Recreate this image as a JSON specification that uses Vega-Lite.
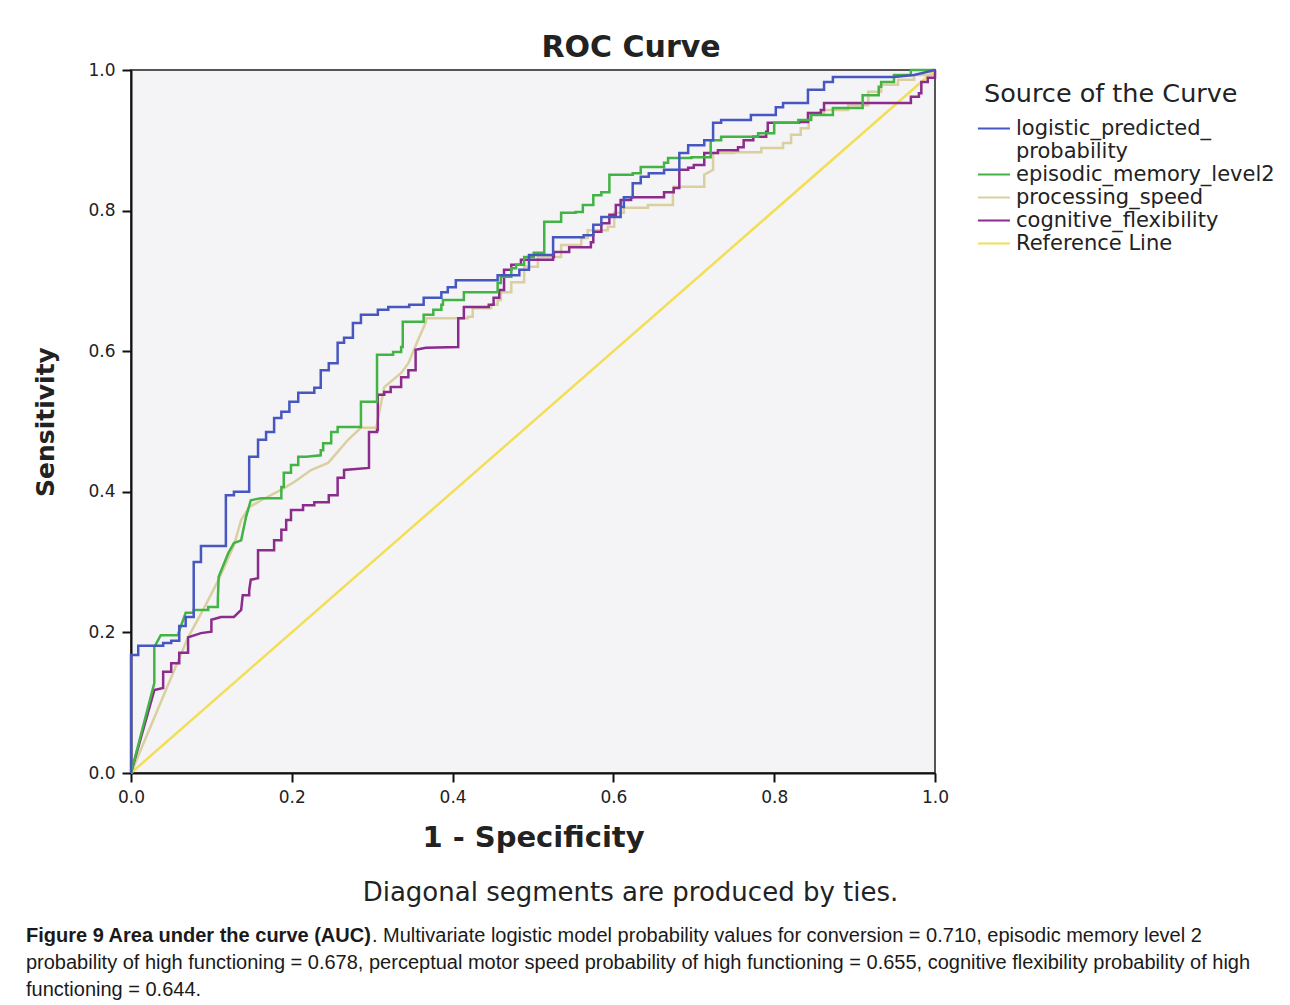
{
  "$schema": "https://vega.github.io/schema/vega-lite/v6.json",
  "background": "white",
  "padding": {"left": 25, "top": 32, "right": 5, "bottom": 5},
  "datasets": {
    "logistic": [
      {"x":0,"y":0},{"x":0,"y":0.168},{"x":0.009,"y":0.168},{"x":0.009,"y":0.181},{"x":0.040,"y":0.181},{"x":0.040,"y":0.185},{"x":0.050,"y":0.185},{"x":0.050,"y":0.188},{"x":0.060,"y":0.188},{"x":0.060,"y":0.209},{"x":0.068,"y":0.209},{"x":0.068,"y":0.222},{"x":0.078,"y":0.222},{"x":0.078,"y":0.300},{"x":0.087,"y":0.300},{"x":0.087,"y":0.323},{"x":0.118,"y":0.323},{"x":0.118,"y":0.395},{"x":0.128,"y":0.395},{"x":0.128,"y":0.400},{"x":0.147,"y":0.400},{"x":0.147,"y":0.450},{"x":0.158,"y":0.450},{"x":0.158,"y":0.474},{"x":0.168,"y":0.474},{"x":0.168,"y":0.485},{"x":0.178,"y":0.485},{"x":0.178,"y":0.505},{"x":0.187,"y":0.505},{"x":0.187,"y":0.514},{"x":0.197,"y":0.514},{"x":0.197,"y":0.528},{"x":0.208,"y":0.528},{"x":0.208,"y":0.541},{"x":0.228,"y":0.541},{"x":0.228,"y":0.548},{"x":0.236,"y":0.548},{"x":0.236,"y":0.573},{"x":0.246,"y":0.573},{"x":0.246,"y":0.583},{"x":0.257,"y":0.583},{"x":0.257,"y":0.612},{"x":0.265,"y":0.612},{"x":0.265,"y":0.619},{"x":0.276,"y":0.619},{"x":0.276,"y":0.640},{"x":0.286,"y":0.640},{"x":0.286,"y":0.652},{"x":0.307,"y":0.652},{"x":0.307,"y":0.659},{"x":0.320,"y":0.659},{"x":0.320,"y":0.663},{"x":0.346,"y":0.663},{"x":0.346,"y":0.666},{"x":0.364,"y":0.666},{"x":0.364,"y":0.676},{"x":0.386,"y":0.676},{"x":0.386,"y":0.684},{"x":0.394,"y":0.684},{"x":0.394,"y":0.691},{"x":0.404,"y":0.691},{"x":0.404,"y":0.701},{"x":0.456,"y":0.701},{"x":0.456,"y":0.708},{"x":0.483,"y":0.708},{"x":0.483,"y":0.716},{"x":0.495,"y":0.716},{"x":0.495,"y":0.737},{"x":0.525,"y":0.737},{"x":0.525,"y":0.762},{"x":0.563,"y":0.762},{"x":0.563,"y":0.765},{"x":0.575,"y":0.765},{"x":0.575,"y":0.780},{"x":0.585,"y":0.780},{"x":0.585,"y":0.791},{"x":0.609,"y":0.791},{"x":0.609,"y":0.805},{"x":0.613,"y":0.805},{"x":0.613,"y":0.819},{"x":0.624,"y":0.819},{"x":0.624,"y":0.839},{"x":0.634,"y":0.839},{"x":0.634,"y":0.848},{"x":0.644,"y":0.848},{"x":0.644,"y":0.853},{"x":0.663,"y":0.853},{"x":0.663,"y":0.858},{"x":0.682,"y":0.858},{"x":0.682,"y":0.882},{"x":0.693,"y":0.882},{"x":0.693,"y":0.893},{"x":0.713,"y":0.893},{"x":0.713,"y":0.900},{"x":0.724,"y":0.900},{"x":0.724,"y":0.925},{"x":0.734,"y":0.925},{"x":0.734,"y":0.929},{"x":0.771,"y":0.929},{"x":0.771,"y":0.936},{"x":0.802,"y":0.936},{"x":0.802,"y":0.947},{"x":0.811,"y":0.947},{"x":0.811,"y":0.953},{"x":0.842,"y":0.953},{"x":0.842,"y":0.972},{"x":0.862,"y":0.972},{"x":0.862,"y":0.983},{"x":0.873,"y":0.983},{"x":0.873,"y":0.990},{"x":0.949,"y":0.990},{"x":0.974,"y":0.993},{"x":1,"y":1}
    ],
    "episodic": [
      {"x":0,"y":0},{"x":0.029,"y":0.128},{"x":0.029,"y":0.179},{"x":0.037,"y":0.196},{"x":0.059,"y":0.196},{"x":0.059,"y":0.199},{"x":0.068,"y":0.228},{"x":0.078,"y":0.228},{"x":0.078,"y":0.232},{"x":0.096,"y":0.232},{"x":0.096,"y":0.236},{"x":0.108,"y":0.236},{"x":0.108,"y":0.246},{"x":0.109,"y":0.279},{"x":0.121,"y":0.313},{"x":0.128,"y":0.327},{"x":0.137,"y":0.331},{"x":0.143,"y":0.364},{"x":0.149,"y":0.388},{"x":0.162,"y":0.391},{"x":0.187,"y":0.391},{"x":0.187,"y":0.407},{"x":0.190,"y":0.407},{"x":0.190,"y":0.427},{"x":0.199,"y":0.427},{"x":0.199,"y":0.438},{"x":0.208,"y":0.438},{"x":0.208,"y":0.450},{"x":0.218,"y":0.450},{"x":0.236,"y":0.452},{"x":0.236,"y":0.459},{"x":0.239,"y":0.459},{"x":0.239,"y":0.469},{"x":0.249,"y":0.469},{"x":0.249,"y":0.485},{"x":0.257,"y":0.485},{"x":0.257,"y":0.492},{"x":0.286,"y":0.492},{"x":0.286,"y":0.528},{"x":0.306,"y":0.528},{"x":0.306,"y":0.595},{"x":0.326,"y":0.595},{"x":0.326,"y":0.599},{"x":0.336,"y":0.599},{"x":0.336,"y":0.606},{"x":0.338,"y":0.606},{"x":0.338,"y":0.642},{"x":0.364,"y":0.642},{"x":0.364,"y":0.652},{"x":0.376,"y":0.652},{"x":0.376,"y":0.659},{"x":0.386,"y":0.659},{"x":0.386,"y":0.666},{"x":0.388,"y":0.666},{"x":0.388,"y":0.673},{"x":0.414,"y":0.673},{"x":0.414,"y":0.684},{"x":0.456,"y":0.684},{"x":0.456,"y":0.697},{"x":0.460,"y":0.697},{"x":0.460,"y":0.706},{"x":0.473,"y":0.706},{"x":0.473,"y":0.718},{"x":0.479,"y":0.718},{"x":0.479,"y":0.723},{"x":0.489,"y":0.723},{"x":0.489,"y":0.734},{"x":0.501,"y":0.734},{"x":0.501,"y":0.740},{"x":0.514,"y":0.740},{"x":0.514,"y":0.784},{"x":0.535,"y":0.784},{"x":0.535,"y":0.797},{"x":0.553,"y":0.797},{"x":0.553,"y":0.798},{"x":0.562,"y":0.798},{"x":0.562,"y":0.808},{"x":0.575,"y":0.808},{"x":0.575,"y":0.822},{"x":0.585,"y":0.822},{"x":0.585,"y":0.826},{"x":0.595,"y":0.826},{"x":0.595,"y":0.851},{"x":0.624,"y":0.851},{"x":0.624,"y":0.853},{"x":0.634,"y":0.853},{"x":0.634,"y":0.862},{"x":0.663,"y":0.862},{"x":0.663,"y":0.868},{"x":0.668,"y":0.868},{"x":0.668,"y":0.875},{"x":0.697,"y":0.875},{"x":0.697,"y":0.876},{"x":0.721,"y":0.876},{"x":0.721,"y":0.900},{"x":0.734,"y":0.900},{"x":0.734,"y":0.905},{"x":0.780,"y":0.905},{"x":0.780,"y":0.910},{"x":0.800,"y":0.910},{"x":0.800,"y":0.925},{"x":0.830,"y":0.925},{"x":0.830,"y":0.929},{"x":0.846,"y":0.929},{"x":0.846,"y":0.936},{"x":0.873,"y":0.936},{"x":0.873,"y":0.946},{"x":0.910,"y":0.946},{"x":0.910,"y":0.964},{"x":0.930,"y":0.964},{"x":0.930,"y":0.976},{"x":0.933,"y":0.976},{"x":0.933,"y":0.983},{"x":0.949,"y":0.983},{"x":0.949,"y":0.993},{"x":0.970,"y":0.993},{"x":0.970,"y":1},{"x":1,"y":1}
    ],
    "processing": [
      {"x":0,"y":0},{"x":0.071,"y":0.193},{"x":0.091,"y":0.235},{"x":0.109,"y":0.275},{"x":0.128,"y":0.324},{"x":0.137,"y":0.360},{"x":0.147,"y":0.378},{"x":0.162,"y":0.388},{"x":0.187,"y":0.403},{"x":0.203,"y":0.414},{"x":0.224,"y":0.431},{"x":0.245,"y":0.441},{"x":0.252,"y":0.450},{"x":0.270,"y":0.474},{"x":0.286,"y":0.491},{"x":0.305,"y":0.491},{"x":0.315,"y":0.549},{"x":0.336,"y":0.569},{"x":0.345,"y":0.583},{"x":0.357,"y":0.616},{"x":0.367,"y":0.642},{"x":0.367,"y":0.647},{"x":0.404,"y":0.647},{"x":0.419,"y":0.647},{"x":0.419,"y":0.649},{"x":0.425,"y":0.649},{"x":0.425,"y":0.661},{"x":0.448,"y":0.661},{"x":0.448,"y":0.666},{"x":0.456,"y":0.666},{"x":0.456,"y":0.673},{"x":0.460,"y":0.673},{"x":0.460,"y":0.684},{"x":0.473,"y":0.684},{"x":0.473,"y":0.698},{"x":0.489,"y":0.698},{"x":0.489,"y":0.720},{"x":0.506,"y":0.720},{"x":0.506,"y":0.734},{"x":0.535,"y":0.734},{"x":0.535,"y":0.751},{"x":0.560,"y":0.751},{"x":0.560,"y":0.761},{"x":0.568,"y":0.761},{"x":0.568,"y":0.772},{"x":0.593,"y":0.772},{"x":0.593,"y":0.777},{"x":0.601,"y":0.777},{"x":0.601,"y":0.797},{"x":0.613,"y":0.797},{"x":0.613,"y":0.804},{"x":0.643,"y":0.804},{"x":0.643,"y":0.808},{"x":0.674,"y":0.808},{"x":0.674,"y":0.825},{"x":0.675,"y":0.834},{"x":0.713,"y":0.834},{"x":0.713,"y":0.851},{"x":0.724,"y":0.858},{"x":0.724,"y":0.882},{"x":0.750,"y":0.882},{"x":0.750,"y":0.883},{"x":0.784,"y":0.883},{"x":0.784,"y":0.889},{"x":0.811,"y":0.889},{"x":0.811,"y":0.896},{"x":0.821,"y":0.896},{"x":0.821,"y":0.908},{"x":0.833,"y":0.908},{"x":0.833,"y":0.917},{"x":0.843,"y":0.917},{"x":0.843,"y":0.939},{"x":0.862,"y":0.939},{"x":0.862,"y":0.943},{"x":0.892,"y":0.943},{"x":0.892,"y":0.950},{"x":0.917,"y":0.950},{"x":0.917,"y":0.969},{"x":0.933,"y":0.969},{"x":0.933,"y":0.979},{"x":0.954,"y":0.979},{"x":0.954,"y":0.986},{"x":0.974,"y":0.986},{"x":0.974,"y":0.993},{"x":1,"y":0.993},{"x":1,"y":1}
    ],
    "cognitive": [
      {"x":0,"y":0},{"x":0.029,"y":0.118},{"x":0.040,"y":0.121},{"x":0.040,"y":0.144},{"x":0.050,"y":0.144},{"x":0.050,"y":0.156},{"x":0.060,"y":0.156},{"x":0.060,"y":0.171},{"x":0.071,"y":0.171},{"x":0.071,"y":0.193},{"x":0.087,"y":0.199},{"x":0.100,"y":0.201},{"x":0.100,"y":0.218},{"x":0.112,"y":0.222},{"x":0.128,"y":0.222},{"x":0.137,"y":0.232},{"x":0.139,"y":0.253},{"x":0.147,"y":0.253},{"x":0.147,"y":0.260},{"x":0.149,"y":0.275},{"x":0.158,"y":0.277},{"x":0.158,"y":0.317},{"x":0.178,"y":0.317},{"x":0.178,"y":0.331},{"x":0.187,"y":0.331},{"x":0.187,"y":0.346},{"x":0.193,"y":0.346},{"x":0.193,"y":0.360},{"x":0.199,"y":0.360},{"x":0.199,"y":0.374},{"x":0.214,"y":0.374},{"x":0.214,"y":0.381},{"x":0.228,"y":0.381},{"x":0.228,"y":0.385},{"x":0.246,"y":0.385},{"x":0.246,"y":0.395},{"x":0.257,"y":0.395},{"x":0.257,"y":0.420},{"x":0.265,"y":0.420},{"x":0.265,"y":0.431},{"x":0.296,"y":0.434},{"x":0.296,"y":0.485},{"x":0.306,"y":0.485},{"x":0.306,"y":0.488},{"x":0.307,"y":0.488},{"x":0.307,"y":0.538},{"x":0.315,"y":0.538},{"x":0.315,"y":0.542},{"x":0.323,"y":0.542},{"x":0.323,"y":0.549},{"x":0.336,"y":0.549},{"x":0.336,"y":0.563},{"x":0.345,"y":0.563},{"x":0.345,"y":0.573},{"x":0.354,"y":0.573},{"x":0.354,"y":0.602},{"x":0.367,"y":0.605},{"x":0.407,"y":0.606},{"x":0.407,"y":0.647},{"x":0.414,"y":0.647},{"x":0.414,"y":0.663},{"x":0.445,"y":0.663},{"x":0.445,"y":0.666},{"x":0.451,"y":0.666},{"x":0.451,"y":0.676},{"x":0.458,"y":0.676},{"x":0.458,"y":0.687},{"x":0.464,"y":0.687},{"x":0.464,"y":0.716},{"x":0.473,"y":0.716},{"x":0.473,"y":0.723},{"x":0.485,"y":0.723},{"x":0.485,"y":0.730},{"x":0.525,"y":0.730},{"x":0.525,"y":0.734},{"x":0.526,"y":0.734},{"x":0.526,"y":0.741},{"x":0.545,"y":0.741},{"x":0.545,"y":0.748},{"x":0.572,"y":0.748},{"x":0.572,"y":0.755},{"x":0.575,"y":0.755},{"x":0.575,"y":0.770},{"x":0.585,"y":0.770},{"x":0.585,"y":0.782},{"x":0.595,"y":0.782},{"x":0.595,"y":0.794},{"x":0.603,"y":0.794},{"x":0.603,"y":0.808},{"x":0.609,"y":0.808},{"x":0.609,"y":0.815},{"x":0.622,"y":0.815},{"x":0.622,"y":0.819},{"x":0.663,"y":0.819},{"x":0.663,"y":0.826},{"x":0.675,"y":0.826},{"x":0.675,"y":0.832},{"x":0.682,"y":0.832},{"x":0.682,"y":0.858},{"x":0.693,"y":0.858},{"x":0.693,"y":0.861},{"x":0.700,"y":0.861},{"x":0.700,"y":0.865},{"x":0.713,"y":0.865},{"x":0.713,"y":0.882},{"x":0.730,"y":0.882},{"x":0.730,"y":0.886},{"x":0.755,"y":0.886},{"x":0.755,"y":0.890},{"x":0.762,"y":0.890},{"x":0.762,"y":0.900},{"x":0.774,"y":0.900},{"x":0.774,"y":0.905},{"x":0.790,"y":0.905},{"x":0.790,"y":0.912},{"x":0.792,"y":0.912},{"x":0.792,"y":0.925},{"x":0.831,"y":0.925},{"x":0.831,"y":0.926},{"x":0.842,"y":0.926},{"x":0.842,"y":0.939},{"x":0.858,"y":0.939},{"x":0.858,"y":0.943},{"x":0.862,"y":0.943},{"x":0.862,"y":0.953},{"x":0.970,"y":0.953},{"x":0.970,"y":0.962},{"x":0.980,"y":0.962},{"x":0.980,"y":0.967},{"x":0.983,"y":0.967},{"x":0.983,"y":0.983},{"x":0.991,"y":0.983},{"x":0.991,"y":0.989},{"x":1,"y":0.989},{"x":1,"y":1}
    ],
    "reference": [
      {"x":0,"y":0},{"x":1,"y":1}
    ]
  },
  "title": {
    "text": [
      "probability of high functioning = 0.678, perceptual motor speed probability of high functioning = 0.655, cognitive flexibility probability of high",
      "functioning = 0.644."
    ],
    "orient": "bottom",
    "anchor": "start",
    "font": "Liberation Sans",
    "fontSize": 20,
    "fontWeight": "normal",
    "lineHeight": 27,
    "color": "#1a1a1a",
    "offset": 7,
    "dx": 0
  },
  "resolve": {"scale": {"color": "independent"}, "legend": {"color": "independent"}},
  "vconcat": [
    {
      "title": {
        "text": ". Multivariate logistic model probability values for conversion = 0.710, episodic memory level 2",
        "orient": "bottom",
        "anchor": "start",
        "font": "Liberation Sans",
        "fontSize": 20,
        "fontWeight": "normal",
        "color": "#1a1a1a",
        "offset": -20,
        "dx": 346
      },
      "resolve": {"scale": {"color": "independent"}, "legend": {"color": "independent"}},
      "vconcat": [
        {
          "title": {
            "text": "Figure 9 Area under the curve (AUC)",
            "orient": "bottom",
            "anchor": "start",
            "font": "Liberation Sans",
            "fontSize": 20,
            "fontWeight": "bold",
            "color": "#1a1a1a",
            "offset": 20,
            "dx": -7
          },
          "resolve": {"scale": {"color": "independent"}, "legend": {"color": "independent"}},
          "vconcat": [
            {
              "title": {
                "text": "Diagonal segments are produced by ties.",
                "orient": "bottom",
                "anchor": "middle",
                "frame": "bounds",
                "font": "DejaVu Sans",
                "fontSize": 26,
                "fontWeight": "normal",
                "color": "#222222",
                "offset": 27,
                "dx": -30
              },
              "resolve": {"scale": {"color": "independent"}, "legend": {"color": "independent"}},
              "vconcat": [
                {
                  "width": 804,
                  "height": 703,
                  "title": {
                    "text": "ROC Curve",
                    "font": "DejaVu Sans",
                    "fontSize": 30,
                    "fontWeight": "bold",
                    "color": "#222222",
                    "anchor": "middle",
                    "frame": "group",
                    "offset": -2,
                    "dx": 98
                  },
                  "layer": [
                    {
                      "data": {"name": "reference"},
                      "mark": {"type": "line", "strokeWidth": 2.5},
                      "encoding": {
                        "x": {"field": "x", "type": "quantitative"},
                        "y": {"field": "y", "type": "quantitative"},
                        "order": {"value": null},
                        "color": {"datum": "Reference Line"}
                      }
                    },
                    {
                      "data": {"name": "processing"},
                      "mark": {"type": "line", "strokeWidth": 2.5},
                      "encoding": {
                        "x": {"field": "x", "type": "quantitative"},
                        "y": {"field": "y", "type": "quantitative"},
                        "order": {"value": null},
                        "color": {"datum": "processing_speed"}
                      }
                    },
                    {
                      "data": {"name": "cognitive"},
                      "mark": {"type": "line", "strokeWidth": 2.5},
                      "encoding": {
                        "x": {"field": "x", "type": "quantitative"},
                        "y": {"field": "y", "type": "quantitative"},
                        "order": {"value": null},
                        "color": {"datum": "cognitive_flexibility"}
                      }
                    },
                    {
                      "data": {"name": "episodic"},
                      "mark": {"type": "line", "strokeWidth": 2.5},
                      "encoding": {
                        "x": {"field": "x", "type": "quantitative"},
                        "y": {"field": "y", "type": "quantitative"},
                        "order": {"value": null},
                        "color": {"datum": "episodic_memory_level2"}
                      }
                    },
                    {
                      "data": {"name": "logistic"},
                      "mark": {"type": "line", "strokeWidth": 2.5},
                      "encoding": {
                        "x": {
                          "field": "x", "type": "quantitative",
                          "title": "1 - Specificity",
                          "scale": {"domain": [0, 1], "nice": false, "zero": false},
                          "axis": {"values": [0, 0.2, 0.4, 0.6, 0.8, 1], "format": ".1f", "labelFlush": false, "titleFontSize": 29, "titlePadding": 18}
                        },
                        "y": {
                          "field": "y", "type": "quantitative",
                          "title": "Sensitivity",
                          "scale": {"domain": [0, 1], "nice": false, "zero": false},
                          "axis": {"values": [0, 0.2, 0.4, 0.6, 0.8, 1], "format": ".1f", "labelFlush": false, "titleFontSize": 25, "titlePadding": 29}
                        },
                        "order": {"value": null},
                        "color": {
                          "datum": "logistic_predicted_probability",
                          "scale": {
                            "domain": ["logistic_predicted_probability", "episodic_memory_level2", "processing_speed", "cognitive_flexibility", "Reference Line"],
                            "range": ["#4657C0", "#42B345", "#D9CF9F", "#8B2B8B", "#F2DF55"]
                          },
                          "legend": {
                            "title": "Source of the Curve",
                            "orient": "right",
                            "offset": 37,
                            "padding": 12,
                            "titleFont": "DejaVu Sans",
                            "titleFontSize": 25.5,
                            "titleFontWeight": "normal",
                            "titleColor": "#222222",
                            "titleLimit": 400,
                            "titlePadding": 9,
                            "labelFont": "DejaVu Sans",
                            "labelFontSize": 21,
                            "labelColor": "#222222",
                            "labelLimit": 400,
                            "labelOffset": 8,
                            "symbolType": "M -1.64 0 L 1.27 0",
                            "symbolSize": 484,
                            "symbolStrokeWidth": 2,
                            "rowPadding": 1,
                            "labelExpr": "datum.label == 'logistic_predicted_probability' ? ['logistic_predicted_', 'probability'] : datum.label"
                          }
                        }
                      }
                    }
                  ]
                }
              ]
            }
          ]
        }
      ]
    }
  ],
  "config": {
    "view": {"fill": "#F4F3F6", "stroke": "#555555", "strokeWidth": 2},
    "axis": {
      "grid": false,
      "domainColor": "#111111",
      "domainWidth": 2,
      "tickColor": "#111111",
      "tickWidth": 2,
      "tickSize": 9,
      "labelFont": "DejaVu Sans",
      "labelFontSize": 17,
      "labelColor": "#222222",
      "labelPadding": 7,
      "titleFont": "DejaVu Sans",
      "titleFontSize": 28,
      "titleFontWeight": "bold",
      "titleColor": "#222222",
      "titlePadding": 14
    }
  }
}
